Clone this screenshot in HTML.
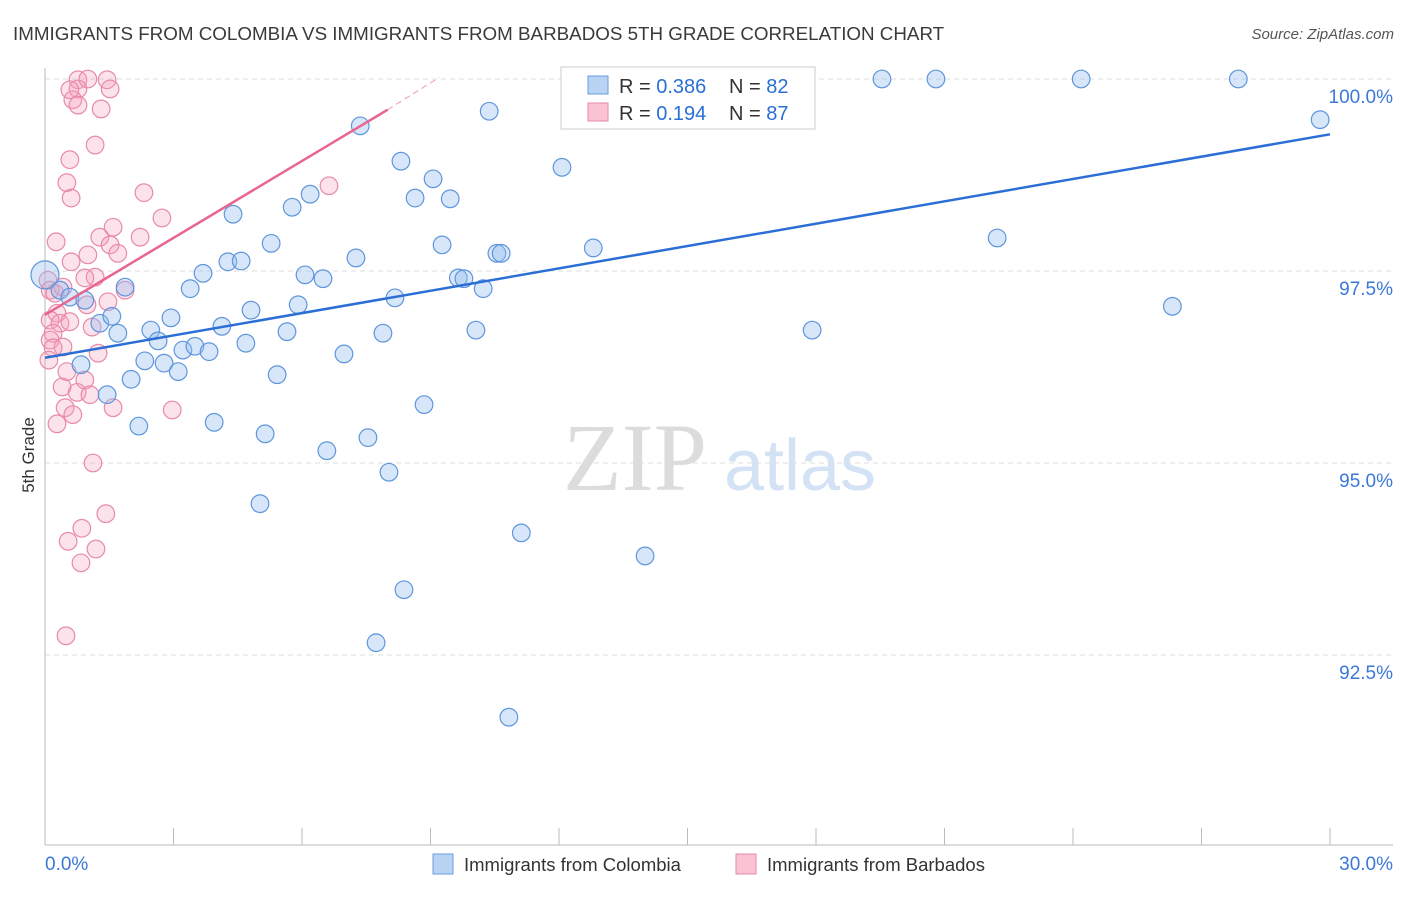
<!DOCTYPE html>
<html><head><meta charset="utf-8"><style>
body{margin:0;background:#fff;font-family:"Liberation Sans",sans-serif;}
</style></head><body>
<svg width="1406" height="892" xmlns="http://www.w3.org/2000/svg" id="svg">
<text x="13" y="40" font-size="18.8" fill="#3a3a3a" font-family="Liberation Sans">IMMIGRANTS FROM COLOMBIA VS IMMIGRANTS FROM BARBADOS 5TH GRADE CORRELATION CHART</text>
<text x="1394" y="39" font-size="15" fill="#555" text-anchor="end" font-style="italic">Source: ZipAtlas.com</text>
<text transform="translate(34,455) rotate(-90)" font-size="17" fill="#333" text-anchor="middle">5th Grade</text>
<g>
<text x="635" y="490" font-size="96" fill="#dcdcdc" font-family="Liberation Serif" text-anchor="middle">ZIP</text>
<text x="800" y="490" font-size="72" fill="#d3e2f5" text-anchor="middle">atlas</text>
</g>
<g id="grid"></g>
<g id="pts"></g>
<g id="lines"></g>
<g>
<rect x="561" y="67" width="254" height="62" fill="#fff" stroke="#ccc"/>
<rect x="588" y="76" width="20" height="18" fill="#b9d3f5" stroke="#6a9ee0"/>
<rect x="588" y="103" width="20" height="18" fill="#f9c3d3" stroke="#e88aa8"/>
<text x="619" y="93" font-size="20" fill="#333">R = <tspan fill="#2b6fd6">0.386</tspan></text>
<text x="729" y="93" font-size="20" fill="#333">N = <tspan fill="#2b6fd6">82</tspan></text>
<text x="619" y="120" font-size="20" fill="#333">R = <tspan fill="#2b6fd6">0.194</tspan></text>
<text x="729" y="120" font-size="20" fill="#333">N = <tspan fill="#2b6fd6">87</tspan></text>
</g>
<g>
<rect x="433" y="854" width="20" height="20" fill="#b9d3f5" stroke="#6a9ee0"/>
<text x="464" y="871" font-size="18.5" fill="#333">Immigrants from Colombia</text>
<rect x="736" y="854" width="20" height="20" fill="#f9c3d3" stroke="#e88aa8"/>
<text x="767" y="871" font-size="18.5" fill="#333">Immigrants from Barbados</text>
</g>
</svg>
<script>
const yTicks=[100,97.5,95,92.5];
const yTickLabels=["100.0%","97.5%","95.0%","92.5%"];
const xTickLabels=["0.0%","30.0%"];
const colombiaX=[0,0.35,0.58,0.93,1.28,1.56,1.7,0.84,1.45,1.87,2.01,2.19,2.33,2.47,2.64,2.78,2.94,3.11,3.22,3.39,3.5,3.69,3.83,3.95,4.13,4.27,4.39,4.58,4.69,4.81,5.02,5.14,5.28,5.42,5.65,5.77,5.91,6.07,6.19,6.49,6.58,6.98,7.26,7.36,7.54,7.89,8.03,8.17,8.31,8.38,8.64,8.85,9.06,9.27,9.46,9.65,9.78,10.06,10.23,10.37,10.55,10.65,10.83,11.12,12.07,12.8,13.8,14.01,15.29,17.91,19.54,20.8,22.23,24.19,26.32,27.86,29.77,7.73];
const colombiaY=[97.45,97.25,97.16,97.12,96.82,96.91,96.69,96.28,95.89,97.29,96.09,95.48,96.33,96.73,96.59,96.3,96.89,96.19,96.47,97.27,96.52,97.47,96.45,95.53,96.78,97.62,98.24,97.63,96.56,96.99,94.47,95.38,97.86,96.15,96.71,98.33,97.06,97.45,98.5,97.4,95.16,96.42,97.67,99.39,95.33,96.69,94.88,97.15,98.93,93.35,98.45,95.76,98.7,97.84,98.44,97.41,97.4,96.73,97.27,99.58,97.73,97.73,91.69,94.09,98.85,97.8,100,93.79,100,96.73,100,100,97.93,100,97.04,100,99.47,92.66];
const barbadosX=[0.77,1.0,1.45,1.52,0.77,0.65,0.77,1.31,1.17,0.58,0.51,0.61,2.31,2.73,1.59,1.28,2.22,0.26,1.52,1.7,1.0,0.61,1.17,0.93,1.87,0.07,0.12,0.23,0.42,0.98,1.47,0.28,0.12,0.35,0.58,1.1,0.19,0.12,0.42,1.24,6.63,0.19,0.51,0.93,0.4,0.75,1.05,1.59,2.97,0.47,0.65,0.28,1.12,1.42,0.86,0.54,1.19,0.84,0.49,0.09,0.58];
const barbadosY=[99.99,100,99.99,99.87,99.87,99.73,99.66,99.61,99.14,98.95,98.65,98.45,98.52,98.19,98.07,97.94,97.94,97.88,97.84,97.73,97.71,97.62,97.42,97.41,97.25,97.38,97.25,97.21,97.29,97.06,97.1,96.95,96.86,96.82,96.84,96.77,96.69,96.6,96.51,96.43,98.61,96.5,96.19,96.08,95.99,95.92,95.89,95.72,95.69,95.72,95.63,95.51,95,94.34,94.15,93.98,93.88,93.7,92.75,96.34,99.86];
const colombiaTrend=[96.37,99.28];
const barbadosTrend=[96.93,99.6,100.02];
const barbadosTrendX=[0,8.0,9.2];

const NS="http://www.w3.org/2000/svg";
const X=v=>45+v/30*1285;
const Y=v=>79+(100-v)/2.5*192;
function mk(t,a,p){const e=document.createElementNS(NS,t);for(const k in a)e.setAttribute(k,a[k]);p.appendChild(e);return e;}
const grid=document.getElementById('grid');
yTicks.forEach((t,i)=>{
  const l=mk('line',{x1:45,x2:1393,y1:Y(t),y2:Y(t),stroke:'#ddd','stroke-dasharray':'5,4'},grid);
  
  
  const tx=mk('text',{x:1393,y:Y(t)+24,'font-size':19,fill:'#3b78d8','text-anchor':'end'},grid);
  tx.textContent=yTickLabels[i];
  
  
});
const ax=mk('line',{x1:45,x2:1393,y1:845,y2:845,stroke:'#bbb'},grid);


const ay=mk('line',{x1:45,x2:45,y1:68,y2:845,stroke:'#bbb'},grid);


for(let i=0;i<=10;i++){const t=mk('line',{x1:X(i*3),x2:X(i*3),y1:828,y2:845,stroke:'#bbb'},grid);
 
 }
const xl0=mk('text',{x:45,y:870,'font-size':19,fill:'#3b78d8'},grid);xl0.textContent=xTickLabels[0];


const xl1=mk('text',{x:1393,y:870,'font-size':19,fill:'#3b78d8','text-anchor':'end'},grid);xl1.textContent=xTickLabels[1];


const pts=document.getElementById('pts');
barbadosX.forEach((x,i)=>{const c=mk('circle',{cx:X(x),cy:Y(barbadosY[i]),r:8.8,fill:'rgba(245,160,190,0.3)',stroke:'#e88aa8','stroke-width':1.2},pts);
 
 });
colombiaX.forEach((x,i)=>{const c=mk('circle',{cx:X(x),cy:Y(colombiaY[i]),r:i==0?14:8.8,fill:'rgba(150,190,240,0.38)',stroke:'#5f96dc','stroke-width':1.2},pts);
 
 });
const lines=document.getElementById('lines');
const bl=mk('line',{x1:X(0),y1:Y(colombiaTrend[0]),x2:X(30),y2:Y(colombiaTrend[1]),stroke:'#2b6fd6','stroke-width':2.5},lines);


const pl=mk('line',{x1:X(barbadosTrendX[0]),y1:Y(barbadosTrend[0]),x2:X(barbadosTrendX[1]),y2:Y(barbadosTrend[1]),stroke:'#e8668f','stroke-width':2.5},lines);


const pd=mk('line',{x1:X(barbadosTrendX[1]),y1:Y(barbadosTrend[1]),x2:X(barbadosTrendX[2]),y2:Y(barbadosTrend[2]),stroke:'#f0a8bf','stroke-width':1.2,'stroke-dasharray':'6,4'},lines);


</script>
</body></html>
